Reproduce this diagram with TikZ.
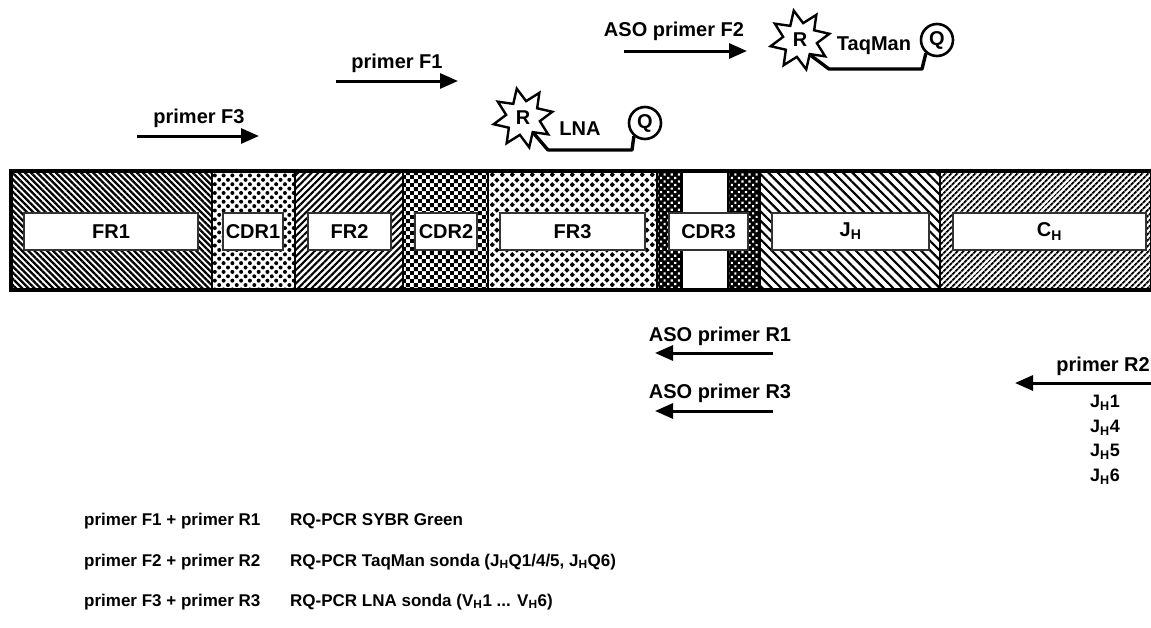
\documentclass[tikz,border=0pt]{standalone}
\usepackage{fontspec}
\setmainfont{Liberation Sans}
\usetikzlibrary{patterns.meta,shapes.geometric,arrows.meta}

\tikzdeclarepattern{
  name=mychecker,
  type=uncolored,
  bounding box={(0pt,0pt) and (8.4pt,8.4pt)},
  tile size={(8.4pt,8.4pt)},
  code={\fill (0pt,0pt) rectangle (4.2pt,4.2pt); \fill (4.2pt,4.2pt) rectangle (8.4pt,8.4pt);}
}
\tikzdeclarepattern{
  name=mydiamonds,
  type=uncolored,
  bounding box={(0pt,0pt) and (10pt,10pt)},
  tile size={(10pt,10pt)},
  code={\fill (2.5pt,-0.4pt)--(5.4pt,2.5pt)--(2.5pt,5.4pt)--(-0.4pt,2.5pt)--cycle;
        \fill (7.5pt,4.6pt)--(10.4pt,7.5pt)--(7.5pt,10.4pt)--(4.6pt,7.5pt)--cycle;}
}

\tikzset{
  seg/.style={line width=2.4pt},
  lbl/.style={draw=black!80, fill=white, line width=1.1pt, minimum height=37pt, inner sep=0pt,
              font=\fontsize{20}{24}\selectfont\bfseries},
  toplbl/.style={font=\fontsize{20}{24}\selectfont\bfseries, inner sep=0pt},
  botlbl/.style={font=\fontsize{17}{20}\selectfont\bfseries, inner sep=0pt, anchor=west},
  jlbl/.style={font=\fontsize{18}{21}\selectfont\bfseries, inner sep=0pt},
  arr/.style={line width=3pt, -{Triangle[length=18pt,width=15pt]}},
  burst/.style={star, star points=8, star point ratio=1.75, shape border rotate=12, draw, line width=2.4pt, fill=white,
                minimum size=60pt, inner sep=0pt, font=\fontsize{20}{24}\selectfont\bfseries},
  qcirc/.style={circle, draw, line width=2.6pt, fill=white, minimum size=32pt, inner sep=0pt,
                font=\fontsize{20}{24}\selectfont\bfseries},
  probe/.style={line width=3.4pt, line join=round}
}

\begin{document}
\begin{tikzpicture}[x=1pt,y=-1pt]
\useasboundingbox (0,0) rectangle (1151,627);

% ---- bar segments ----
\fill[pattern={Lines[angle=-45,distance=4.4pt,line width=2.3pt]}] (11,171) rectangle (212,290);
\fill[pattern={Dots[angle=45,distance=6.2pt,radius=2.0pt]}] (212,171) rectangle (295,290);
\fill[pattern={Lines[angle=45,distance=4.8pt,line width=2.1pt]}] (295,171) rectangle (403,290);
\fill[pattern=mychecker] (403,171) rectangle (488,290);
\fill[pattern=mydiamonds] (488,171) rectangle (657,290);
\fill[black] (657,171) rectangle (682,290);
\fill[pattern={Dots[angle=45,distance=5pt,radius=1.5pt]}, pattern color=white] (657,171) rectangle (682,290);
\fill[black] (728,171) rectangle (760,290);
\fill[pattern={Dots[angle=45,distance=5pt,radius=1.5pt]}, pattern color=white] (728,171) rectangle (760,290);
\fill[pattern={Lines[angle=-45,distance=6.6pt,line width=2.2pt]}] (760,171) rectangle (940,290);
\fill[pattern={Lines[angle=45,distance=4pt,line width=2.05pt]}] (940,171) rectangle (1152,290);

\foreach \xx in {212,295,403,488,657,682,728,760,940}
  \draw[seg] (\xx,171) -- (\xx,290);
\draw[line width=3.2pt] (11,171) rectangle (1152,290);

% ---- labels in bar ----
\node[lbl, minimum width=174pt] (fr1) at (111,231.5) {FR1};
\node[lbl, minimum width=60pt] (cdr1) at (253,231.5) {CDR1};
\node[lbl, minimum width=83pt] (fr2) at (349.5,231.5) {FR2};
\node[lbl, minimum width=62pt] (cdr2) at (446,231.5) {CDR2};
\node[lbl, minimum width=145pt] (fr3) at (572.5,231.5) {FR3};
\node[lbl, minimum width=79pt] (cdr3) at (708.5,231.5) {CDR3};
\node[lbl, minimum width=157pt] (jh) at (850.5,231.5) {J\textsubscript{H}};
\node[lbl, minimum width=193pt] (ch) at (1049.5,231.5) {C\textsubscript{H}};

% ---- forward primers ----
\coordinate (f3s) at (137,136); \coordinate (f3e) at (259,136);
\draw[arr] (f3s) -- (f3e);
\node[toplbl] (f3t) at (199,118) {primer F3};

\coordinate (f1s) at (336,81); \coordinate (f1e) at (458,81);
\draw[arr] (f1s) -- (f1e);
\node[toplbl] (f1t) at (397,63) {primer F1};

\coordinate (f2s) at (624,51); \coordinate (f2e) at (747,51);
\draw[arr] (f2s) -- (f2e);
\node[toplbl] (f2t) at (674,31) {ASO primer F2};

% ---- LNA probe ----
\node[burst] (rl) at (523,118) {R};
\node[qcirc] (ql) at (645,123) {Q};
\node[toplbl] (lna) at (580,129) {LNA};
\coordinate (l1) at (548,150); \coordinate (l2) at (632,150);
\draw[probe] (rl.-55) -- (l1) -- (l2) -- (ql.-130);

% ---- TaqMan probe ----
\node[burst] (rt) at (800,40) {R};
\node[qcirc] (qt) at (937,40) {Q};
\node[toplbl] (tq) at (874,46) {TaqMan};
\coordinate (t1) at (829,69); \coordinate (t2) at (922,69);
\draw[probe] (rt.-55) -- (t1) -- (t2) -- (qt.-130);

% ---- reverse primers ----
\coordinate (r1s) at (773,353); \coordinate (r1e) at (655,353);
\draw[arr] (r1s) -- (r1e);
\node[toplbl] (r1t) at (720,336) {ASO primer R1};

\coordinate (r3s) at (773,411); \coordinate (r3e) at (655,411);
\draw[arr] (r3s) -- (r3e);
\node[toplbl] (r3t) at (720,393) {ASO primer R3};

\coordinate (r2s) at (1153,383); \coordinate (r2e) at (1015,383);
\draw[arr] (r2s) -- (r2e);
\node[toplbl, anchor=east] (r2t) at (1150,366) {primer R2};

\node[jlbl] (j1) at (1105,403) {J\textsubscript{H}1};
\node[jlbl] (j4) at (1105,428) {J\textsubscript{H}4};
\node[jlbl] (j5) at (1105,452) {J\textsubscript{H}5};
\node[jlbl] (j6) at (1105,477) {J\textsubscript{H}6};

% ---- legend ----
\node[botlbl] (a1) at (84,521) {primer F1 + primer R1};
\node[botlbl] (b1) at (290,521) {RQ-PCR SYBR Green};
\node[botlbl] (a2) at (84,562) {primer F2 + primer R2};
\node[botlbl] (b2) at (290,562) {RQ-PCR TaqMan sonda (J\textsubscript{H}Q1/4/5, J\textsubscript{H}Q6)};
\node[botlbl] (a3) at (84,602) {primer F3 + primer R3};
\node[botlbl] (b3) at (290,602) {RQ-PCR LNA sonda (V\textsubscript{H}1 ... V\textsubscript{H}6)};
\end{tikzpicture}
\end{document}
